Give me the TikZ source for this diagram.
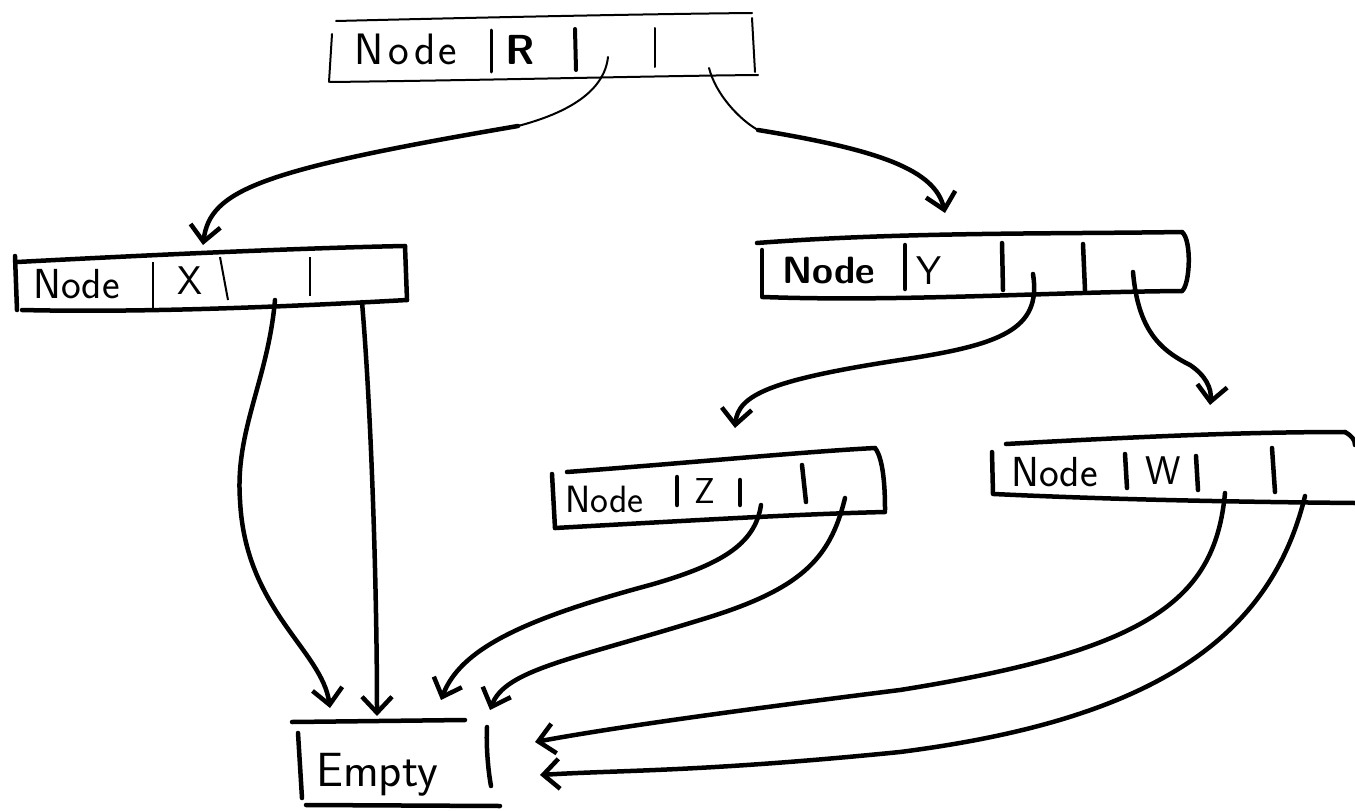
\documentclass[tikz,border=0pt]{standalone}
\usetikzlibrary{arrows.meta}
\begin{document}
\begin{tikzpicture}[x=1pt,y=-1pt,
  thickbox/.style={line width=4.5pt,line cap=round,line join=round},
  thinbox/.style={line width=2pt,line cap=round,line join=round},
  lbl/.style={font=\sffamily\fontsize{38}{44}\selectfont,inner sep=0pt,anchor=base west},
  conn/.style={line width=4.5pt,line cap=round,-{Straight Barb[length=16pt,width=30pt,line width=4.5pt]}},
  thinconn/.style={line width=2pt,line cap=round},
]
\useasboundingbox (0,0) rectangle (1355,811);

% ---------- R box (thin) ----------
\draw[thinbox] (336,21) .. controls (500,17) and (650,14) .. (752,13);
\draw[thinbox] (752,18) -- (755,72);
\draw[thinbox] (330,82) .. controls (500,80) and (650,76) .. (758,75);
\draw[thinbox] (332,34) -- (329,82);
\draw[line width=3pt,line cap=round] (491,30) -- (491,72);
\draw[line width=4pt,line cap=round] (575,29) -- (576,70);
\draw[thinbox] (655,28) -- (655,67);
\node[lbl,font=\sffamily\fontsize{44}{50}\selectfont] (nR) at (354,64) {N\kern5pt o\kern5pt d\kern3pt e};
\node[lbl,font=\sffamily\bfseries\fontsize{42}{48}\selectfont] (vR) at (505,64) {R};
\coordinate (r3) at (608,57);
\coordinate (r4) at (709,68);

% ---------- X box ----------
\draw[thickbox] (17,262) .. controls (150,255) and (300,248) .. (405,246);
\draw[thickbox] (405,246) -- (407,300);
\draw[thickbox] (22,310) .. controls (150,313) and (300,306) .. (407,300);
\draw[thickbox] (15,256) -- (17,310);
\draw[line width=2pt] (153,262) -- (153,308);
\draw[line width=2pt] (220,257) -- (228,300);
\draw[line width=2.5pt] (310,257) -- (310,296);
\node[lbl,font=\sffamily\fontsize{42}{48}\selectfont] (nX) at (33,298) {Node};
\node[lbl,font=\sffamily\fontsize{40}{46}\selectfont] (vX) at (177,294) {X};
\coordinate (x3) at (275,300);
\coordinate (x4) at (362,302);
\coordinate (xin) at (203,245);

% ---------- Y box ----------
\draw[thickbox] (757,243) .. controls (900,232) and (1050,234) .. (1182,232);
\draw[thickbox] (1182,232) .. controls (1192,240) and (1190,285) .. (1182,291);
\draw[thickbox] (763,297) .. controls (900,302) and (1050,292) .. (1182,291);
\draw[thickbox] (762,250) -- (762,297);
\draw[thickbox] (905,245) -- (905,289);
\draw[thickbox] (1002,243) -- (1003,290);
\draw[thickbox] (1083,244) -- (1085,290);
\node[lbl,font=\sffamily\bfseries\fontsize{38}{44}\selectfont] (nY) at (782,283) {Node};
\node[lbl,font=\sffamily\fontsize{40}{46}\selectfont] (vY) at (916,284) {Y};
\coordinate (y3) at (1033,274);
\coordinate (y4) at (1133,272);
\coordinate (yin) at (945,213);

% ---------- Z box ----------
\draw[thickbox] (567,472) .. controls (700,462) and (800,452) .. (875,448);
\draw[thickbox] (875,448) .. controls (885,460) and (885,500) .. (885,510);
\draw[thickbox] (555,528) .. controls (700,520) and (800,514) .. (885,512);
\draw[thickbox] (552,474) -- (555,528);
\draw[thickbox] (677,477) -- (677,505);
\draw[thickbox] (740,480) -- (740,505);
\draw[thickbox] (802,465) -- (806,502);
\node[lbl,font=\sffamily\fontsize{38}{44}\selectfont] (nZ) at (565,512) {Node};
\node[lbl,font=\sffamily\fontsize{36}{42}\selectfont] (vZ) at (694,503) {Z};
\coordinate (z3) at (761,505);
\coordinate (z4) at (845,498);
\coordinate (zin) at (735,428);

% ---------- W box ----------
\draw[thickbox] (1006,444) .. controls (1150,436) and (1250,432) .. (1345,432);
\draw[thickbox] (1345,432) .. controls (1352,436) and (1355,440) .. (1355,445);
\draw[thickbox] (994,494) .. controls (1120,500) and (1250,502) .. (1355,503);
\draw[thickbox] (992,452) -- (993,494);
\draw[thickbox] (1125,454) -- (1127,488);
\draw[thickbox] (1196,456) -- (1198,490);
\draw[thickbox] (1272,448) -- (1275,492);
\node[lbl,font=\sffamily\fontsize{42}{48}\selectfont] (nW) at (1011,486) {Node};
\node[lbl,font=\sffamily\fontsize{40}{46}\selectfont] (vW) at (1145,484) {W};
\coordinate (w3) at (1225,493);
\coordinate (w4) at (1305,496);
\coordinate (win) at (1210,405);

% ---------- Empty box ----------
\draw[thickbox] (292,722) -- (465,720);
\draw[thickbox] (298,733) -- (302,798);
\draw[thickbox] (306,805) -- (500,806);
\draw[thickbox] (487,727) .. controls (486,745) and (488,770) .. (491,786);
\node[lbl,font=\sffamily\fontsize{48}{54}\selectfont] (nE) at (316,786) {Empty};
\coordinate (e1) at (330,708);
\coordinate (e2) at (377,716);
\coordinate (e3) at (441,700);
\coordinate (e4) at (490,710);
\coordinate (e5) at (535,742);
\coordinate (e6) at (540,775);

% ---------- connectors ----------
\draw[thinconn] (r3) .. controls (604,95) and (560,115) .. (518,126);
\draw[conn] (518,126) .. controls (260,170) and (210,190) .. (xin);
\draw[thinconn] (r4) .. controls (716,95) and (740,120) .. (758,130);
\draw[conn] (758,130) .. controls (880,150) and (935,170) .. (yin);

\draw[conn] (x3) .. controls (268,380) and (235,430) .. (240,500)
   .. controls (245,610) and (322,650) .. (e1);
\draw[conn] (x4) .. controls (372,420) and (377,600) .. (e2);

\draw[conn] (y3) .. controls (1042,330) and (1000,345) .. (900,360)
   .. controls (770,380) and (738,395) .. (zin);
\draw[conn] (y4) .. controls (1138,330) and (1160,350) .. (1190,365)
   .. controls (1205,375) and (1212,388) .. (win);

\draw[conn] (z3) .. controls (755,545) and (720,565) .. (650,585)
   .. controls (520,620) and (460,650) .. (e3);
\draw[conn] (z4) .. controls (830,560) and (800,590) .. (700,620)
   .. controls (570,660) and (505,670) .. (e4);

\draw[conn] (w3) .. controls (1215,600) and (1150,650) .. (900,690)
   .. controls (700,715) and (600,730) .. (e5);
\draw[conn] (w4) .. controls (1270,640) and (1150,720) .. (900,752)
   .. controls (700,772) and (620,770) .. (e6);
\end{tikzpicture}
\end{document}
